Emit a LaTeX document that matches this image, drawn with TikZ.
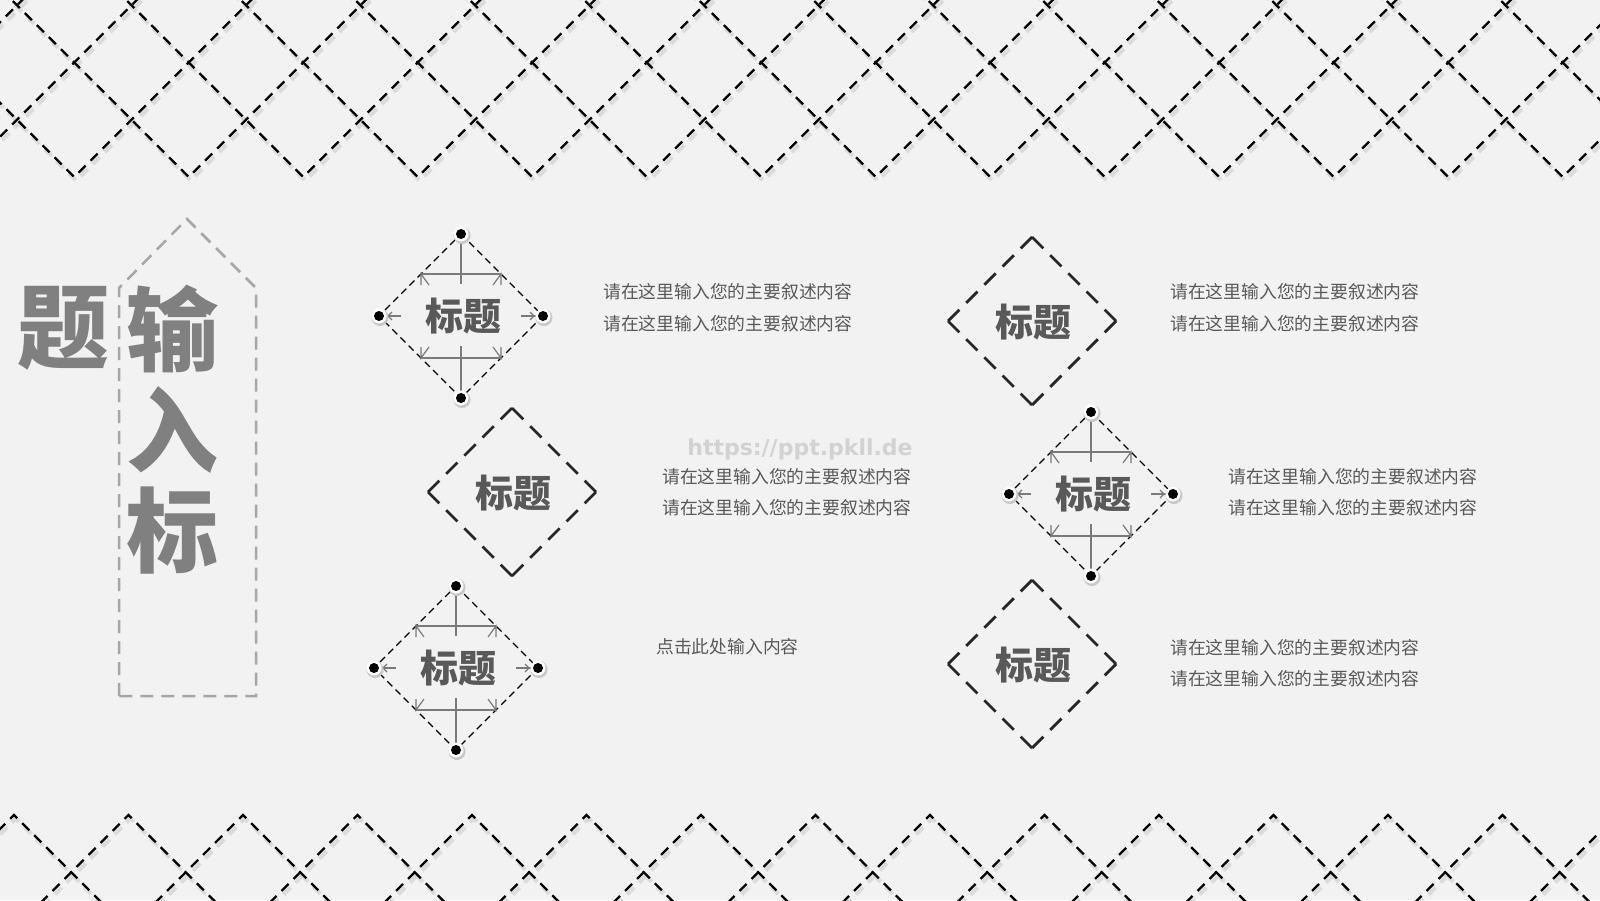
\documentclass[tikz,border=0pt]{standalone}
\usepackage{fontspec}
\newfontfamily\cjk{Noto Sans CJK SC}
\newfontfamily\wmfont{DejaVu Sans}
\usetikzlibrary{arrows.meta}
\definecolor{bgc}{HTML}{F2F2F2}
\definecolor{titlegray}{HTML}{808080}
\definecolor{txtgray}{HTML}{595959}
\definecolor{boxgray}{HTML}{A6A6A6}
\definecolor{inngray}{HTML}{7A7A7A}
\definecolor{dkline}{HTML}{262626}
\definecolor{wmgray}{HTML}{D2D2D2}
\tikzset{
  pat/.style={line width=2.2pt, black, dash pattern=on 10pt off 7pt},
  patshadow/.style={line width=4pt, black!14, dash pattern=on 10pt off 7pt},
  outA/.style={line width=1.3pt, black, dash pattern=on 7pt off 4.5pt},
  outB/.style={line width=2.8pt, dkline, dash pattern=on 16pt off 9.7pt},
  inn/.style={line width=1.2pt, inngray},
  ttl/.style={font=\cjk\bfseries\fontsize{38}{40}\selectfont, text=txtgray, inner sep=0pt},
  body/.style={font=\cjk\fontsize{17.8}{31.5}\selectfont, text=txtgray, inner sep=0pt, anchor=west, align=left},
  big/.style={font=\cjk\bfseries\fontsize{92}{96}\selectfont, text=titlegray, inner sep=0pt},
  arrowbox/.style={line width=2.5pt, boxgray, dash pattern=on 13pt off 8pt},
  diaA/.pic={
    \coordinate (-t) at (0,-82);
    \coordinate (-r) at (82,0);
    \coordinate (-b) at (0,82);
    \coordinate (-l) at (-82,0);
    \draw[outA] (-t) -- (-r) -- (-b) -- (-l) -- cycle;
    \draw[inn] (-t) -- (0,-32);
    \draw[inn] (0,30) -- (-b);
    \draw[inn] (-40,-42) -- (40,-42);
    \draw[inn] (-40,42) -- (40,42);
    \draw[inn] (-40,-31) -- (-40,-42) -- (-32,-31);
    \draw[inn] (40,-31) -- (40,-42) -- (32,-31);
    \draw[inn] (-40,31) -- (-40,42) -- (-32,31);
    \draw[inn] (40,31) -- (40,42) -- (32,31);
    \draw[inn] (-60,0) -- (-l);
    \draw[inn] (-69,-4) -- (-73,0) -- (-69,4);
    \draw[inn] (60,0) -- (-r);
    \draw[inn] (69,-4) -- (73,0) -- (69,4);
    \foreach \p in {(0,-82),(82,0),(0,82),(-82,0)} {
      \fill[black!22] \p ++(1,1.5) circle (8.5);
      \fill[white] \p circle (7.5);
      \fill[black] \p circle (5);
    }
    \node[ttl] (-x) at (2,0) {标题};
  },
  diaB/.pic={
    \coordinate (-t) at (0,-84);
    \coordinate (-r) at (84,0);
    \coordinate (-b) at (0,84);
    \coordinate (-l) at (-84,0);
    \draw[outB] (-t) -- (-l);
    \draw[outB] (-t) -- (-r);
    \draw[outB] (-b) -- (-l);
    \draw[outB] (-b) -- (-r);
    \node[ttl] (-x) at (1,1) {标题};
  }
}
\begin{document}
\begin{tikzpicture}[x=1pt,y=-1pt]
\useasboundingbox (0,0) rectangle (1600,900);
\fill[bgc] (0,0) rectangle (1600,900);
\begin{scope}
\clip (0,0) rectangle (1600,900);
% pattern shadows
\begin{scope}[shift={(2,3.5)}]
\foreach \k in {-2,...,15} {
  \pgfmathsetmacro\tx{74.25+114.5*\k}
  \draw[patshadow] (\tx-200,-23) -- (\tx,177) -- (\tx+200,-23);
}
\foreach \k in {-2,...,15} {
  \pgfmathsetmacro\px{14+114.5*\k}
  \draw[patshadow] (\px-100,915) -- (\px,815) -- (\px+100,915);
}
\end{scope}
\foreach \k in {-2,...,15} {
  \pgfmathsetmacro\tx{74.25+114.5*\k}
  \draw[pat] (\tx-200,-23) -- (\tx,177) -- (\tx+200,-23);
}
\foreach \k in {-2,...,15} {
  \pgfmathsetmacro\px{14+114.5*\k}
  \draw[pat] (\px-100,915) -- (\px,815) -- (\px+100,915);
}
\end{scope}

% left title with dashed arrow box
\coordinate (ab1) at (119,696);
\coordinate (ab2) at (119,288);
\coordinate (ab3) at (187,219);
\coordinate (ab4) at (256,288);
\coordinate (ab5) at (256,696);
\draw[arrowbox] (ab1) -- (ab2) -- (ab3) -- (ab4) -- (ab5) -- cycle;
\node[big] (ti) at (63,328) {题};
\node[big] (shu) at (172,329) {输};
\node[big] (ru) at (172,430) {入};
\node[big] (biao) at (172,531) {标};

% diamonds
\pic (d1) at (461,316) {diaA};
\pic (d2) at (512,492) {diaB};
\pic (d3) at (456,668) {diaA};
\pic (d4) at (1032,321) {diaB};
\pic (d5) at (1091,494) {diaA};
\pic (d6) at (1032,664) {diaB};

% watermark
\node[font=\wmfont\bfseries\fontsize{22}{24}\selectfont, text=wmgray, inner sep=0pt] (wm) at (800,449) {https://ppt.pkll.de};

% texts
\node[body] (t1) at (603,307.5) {请在这里输入您的主要叙述内容\\请在这里输入您的主要叙述内容};
\node[body] (t4) at (1170,307.5) {请在这里输入您的主要叙述内容\\请在这里输入您的主要叙述内容};
\node[body] (t2) at (662,492) {请在这里输入您的主要叙述内容\\请在这里输入您的主要叙述内容};
\node[body] (t5) at (1228,492) {请在这里输入您的主要叙述内容\\请在这里输入您的主要叙述内容};
\node[body] (t3) at (656,647) {点击此处输入内容};
\node[body] (t6) at (1170,663) {请在这里输入您的主要叙述内容\\请在这里输入您的主要叙述内容};
\end{tikzpicture}
\end{document}
